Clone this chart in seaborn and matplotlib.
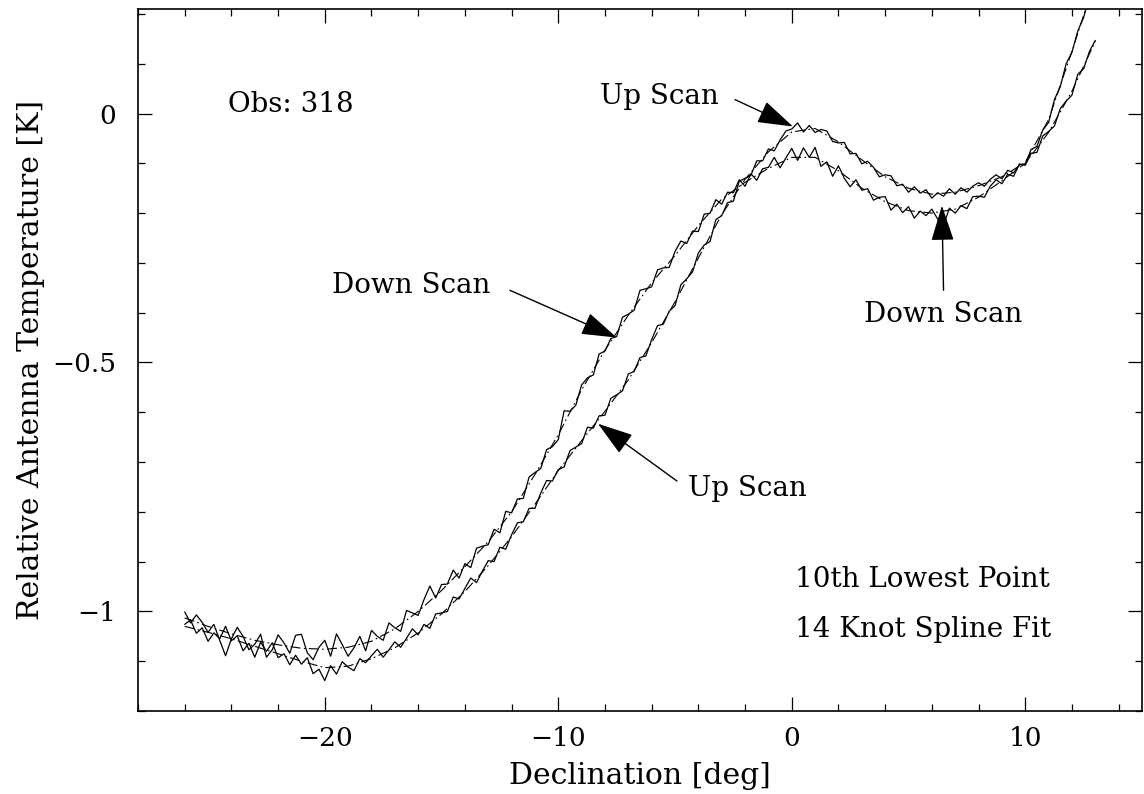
import numpy as np
import pandas as pd
import matplotlib
matplotlib.use("Agg")
import matplotlib.pyplot as plt
from matplotlib.ticker import MultipleLocator, FixedLocator, FixedFormatter
import seaborn as sns

# ---- scan data: relative antenna temperature [K] vs declination [deg] ----
dec_start = -26.0
dec_step = 0.25

down_scan = [
    -1.001, -1.023, -1.007, -1.022, -1.042, -1.026, -1.058, -1.089,
    -1.055, -1.032, -1.050, -1.077, -1.066, -1.046, -1.092, -1.077,
    -1.047, -1.063, -1.084, -1.048, -1.046, -1.083, -1.097, -1.072,
    -1.058, -1.090, -1.045, -1.067, -1.090, -1.073, -1.050, -1.079,
    -1.038, -1.050, -1.058, -1.023, -1.033, -1.040, -0.998, -1.003,
    -1.008, -0.976, -0.949, -0.973, -0.946, -0.945, -0.917, -0.933,
    -0.904, -0.912, -0.873, -0.869, -0.866, -0.835, -0.842, -0.799,
    -0.802, -0.774, -0.773, -0.730, -0.721, -0.713, -0.675, -0.669,
    -0.655, -0.597, -0.598, -0.586, -0.545, -0.531, -0.525, -0.483,
    -0.477, -0.452, -0.448, -0.409, -0.403, -0.395, -0.355, -0.352,
    -0.348, -0.314, -0.310, -0.309, -0.277, -0.256, -0.261, -0.236,
    -0.237, -0.202, -0.200, -0.173, -0.182, -0.158, -0.159, -0.133,
    -0.146, -0.121, -0.134, -0.111, -0.108, -0.088, -0.109, -0.089,
    -0.070, -0.094, -0.069, -0.088, -0.068, -0.106, -0.097, -0.126,
    -0.105, -0.130, -0.147, -0.133, -0.154, -0.151, -0.174, -0.168,
    -0.167, -0.194, -0.182, -0.199, -0.187, -0.210, -0.196, -0.205,
    -0.192, -0.212, -0.225, -0.190, -0.200, -0.185, -0.191, -0.167,
    -0.166, -0.168, -0.146, -0.133, -0.141, -0.122, -0.126, -0.101,
    -0.104, -0.080, -0.078, -0.045, -0.036, -0.025, 0.010, 0.025,
    0.037, 0.079, 0.090, 0.125, 0.147,
]

up_scan = [
    -1.026, -1.017, -1.044, -1.033, -1.060, -1.043, -1.055, -1.030,
    -1.059, -1.049, -1.079, -1.064, -1.092, -1.062, -1.080, -1.063,
    -1.093, -1.085, -1.107, -1.088, -1.106, -1.093, -1.125, -1.116,
    -1.139, -1.109, -1.126, -1.101, -1.112, -1.119, -1.095, -1.103,
    -1.089, -1.076, -1.092, -1.077, -1.061, -1.072, -1.054, -1.035,
    -1.047, -1.026, -1.034, -1.005, -1.003, -1.000, -0.971, -0.975,
    -0.954, -0.933, -0.942, -0.919, -0.898, -0.900, -0.871, -0.875,
    -0.846, -0.822, -0.820, -0.793, -0.793, -0.762, -0.737, -0.738,
    -0.715, -0.710, -0.677, -0.670, -0.663, -0.630, -0.632, -0.607,
    -0.606, -0.572, -0.565, -0.557, -0.523, -0.518, -0.490, -0.487,
    -0.454, -0.426, -0.423, -0.397, -0.386, -0.344, -0.332, -0.318,
    -0.280, -0.264, -0.257, -0.213, -0.205, -0.179, -0.176, -0.136,
    -0.130, -0.124, -0.095, -0.095, -0.071, -0.075, -0.053, -0.035,
    -0.031, -0.019, -0.037, -0.024, -0.038, -0.032, -0.035, -0.056,
    -0.059, -0.058, -0.081, -0.080, -0.101, -0.096, -0.108, -0.127,
    -0.123, -0.125, -0.145, -0.142, -0.158, -0.147, -0.160, -0.153,
    -0.170, -0.159, -0.166, -0.151, -0.162, -0.149, -0.158, -0.146,
    -0.139, -0.146, -0.132, -0.123, -0.131, -0.114, -0.119, -0.103,
    -0.102, -0.072, -0.066, -0.033, -0.018, 0.028, 0.054, 0.100,
    0.123, 0.166, 0.193, 0.236,
]

# ---- 14-knot spline fits, sampled every degree ----
fit_dec = list(range(-26, 14))
down_fit = [
    -1.013, -1.030, -1.045, -1.058, -1.067, -1.074, -1.076, -1.072,
    -1.060, -1.035, -1.000, -0.958, -0.910, -0.860, -0.800, -0.725,
    -0.645, -0.555, -0.475, -0.405, -0.340, -0.285, -0.225, -0.172,
    -0.138, -0.110, -0.088, -0.088, -0.115, -0.150, -0.177, -0.195,
    -0.200, -0.192, -0.168, -0.135, -0.100, -0.038, 0.045, 0.145,
]
up_fit = [
    -1.030, -1.042, -1.055, -1.070, -1.085, -1.100, -1.113, -1.110,
    -1.095, -1.073, -1.043, -1.005, -0.960, -0.908, -0.850, -0.785,
    -0.717, -0.657, -0.598, -0.535, -0.460, -0.378, -0.290, -0.203,
    -0.132, -0.077, -0.037, -0.030, -0.057, -0.093, -0.127, -0.150,
    -0.162, -0.158, -0.145, -0.127, -0.098, -0.012, 0.125, 0.270,
]

# ---- axis ticks ----
xtick_vals = [-20, -10, 0, 10]
xtick_labels = ["\u221220", "\u221210", "0", "10"]
ytick_vals = [-1.0, -0.5, 0.0]
ytick_labels = ["\u22121", "\u22120.5", "0"]

down_dec = dec_start + dec_step * np.arange(len(down_scan))
up_dec = dec_start + dec_step * np.arange(len(up_scan))

scans = pd.concat([
    pd.DataFrame({"dec": down_dec, "temp": down_scan, "scan": "Down"}),
    pd.DataFrame({"dec": up_dec, "temp": up_scan, "scan": "Up"}),
], ignore_index=True)
fits = pd.concat([
    pd.DataFrame({"dec": fit_dec, "temp": down_fit, "scan": "Down"}),
    pd.DataFrame({"dec": fit_dec, "temp": up_fit, "scan": "Up"}),
], ignore_index=True)

sns.set_theme(style="ticks")
plt.rcParams["font.family"] = ["DejaVu Serif"]
plt.rcParams["axes.unicode_minus"] = True

W, H = 1144, 794
fig = plt.figure(figsize=(W / 100, H / 100), dpi=100)
fig.patch.set_facecolor("white")
ax = fig.add_axes([138 / W, 1 - 711 / H, (1142 - 138) / W, (711 - 9) / H])
ax.set_facecolor("white")

sns.lineplot(data=scans, x="dec", y="temp", units="scan", estimator=None,
             sort=False, color="black", linewidth=0.9, ax=ax, legend=False)
sns.lineplot(data=fits, x="dec", y="temp", units="scan", estimator=None,
             sort=False, color="black", linewidth=0.8, ax=ax, legend=False,
             linestyle=(0, (9, 3, 1.5, 3)))

ax.set_xlim(-28, 15)
ax.set_ylim(-1.2, 0.21)

ax.xaxis.set_major_locator(FixedLocator(xtick_vals))
ax.xaxis.set_major_formatter(FixedFormatter(xtick_labels))
ax.xaxis.set_minor_locator(MultipleLocator(2))
ax.yaxis.set_major_locator(FixedLocator(ytick_vals))
ax.yaxis.set_major_formatter(FixedFormatter(ytick_labels))
ax.yaxis.set_minor_locator(MultipleLocator(0.1))

ax.tick_params(which="both", direction="in", top=True, right=True,
               colors="black", width=0.9)
ax.tick_params(which="major", length=10)
ax.tick_params(which="minor", length=5)
ax.tick_params(axis="x", which="major", pad=11, labelsize=19)
ax.tick_params(axis="y", which="major", pad=16, labelsize=19)
for sp in ax.spines.values():
    sp.set_visible(True)
    sp.set_color("black")
    sp.set_linewidth(1.2)

ax.set_xlabel("Declination [deg]", fontsize=21.5, labelpad=8, color="black")
ax.set_ylabel("Relative Antenna Temperature [K]", fontsize=21.5, labelpad=5,
              color="black")

txt = dict(fontsize=20, color="black")
ax.text(-24.15, 0.018, "Obs: 318", ha="left", va="center", **txt)
ax.text(0.15, -0.935, "10th Lowest Point", ha="left", va="center", **txt)
ax.text(0.15, -1.036, "14 Knot Spline Fit", ha="left", va="center", **txt)

arrow = dict(arrowstyle="-|>,head_length=1.4,head_width=0.45", color="black",
             lw=1.0, shrinkA=0, shrinkB=0, mutation_scale=16)
labels = [
    ("Up Scan", (-8.21, 0.034), "left", (-2.43, 0.028), (0.05, -0.026)),
    ("Down Scan", (-19.69, -0.345), "left", (-12.07, -0.355), (-7.49, -0.45)),
    ("Up Scan", (-4.45, -0.754), "left", (-4.92, -0.738), (-8.30, -0.623)),
    ("Down Scan", (6.48, -0.403), "center", (6.50, -0.355), (6.43, -0.185)),
]
for text, pos, ha, start, tip in labels:
    ax.text(pos[0], pos[1], text, ha=ha, va="center", **txt)
    ax.annotate("", xy=tip, xytext=start, arrowprops=arrow)

fig.savefig("out.png", dpi=100, facecolor="white")
